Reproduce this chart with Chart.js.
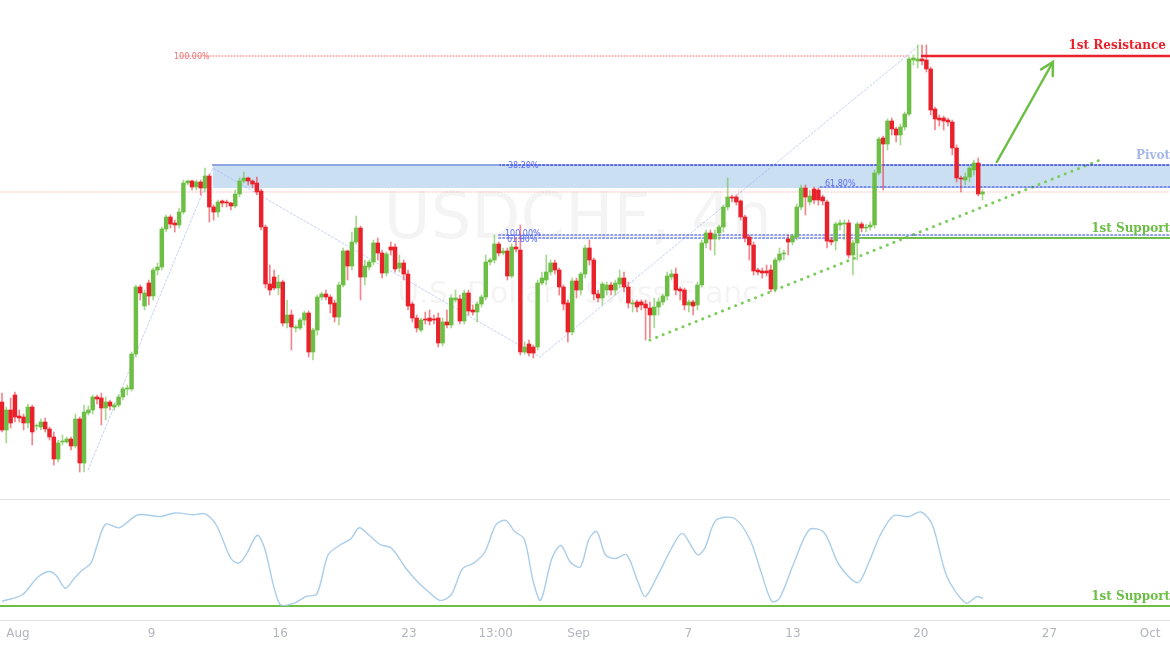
<!DOCTYPE html>
<html lang="en">
<head>
<meta charset="UTF-8">
<title>USDCHF 4h</title>
<script src="https://cdn.jsdelivr.net/npm/chart.js"></script>
<style>
  body { margin: 0; background: #fff; width: 1170px; height: 650px; overflow: hidden; font-family: "DejaVu Sans", sans-serif; }
  #top { position: absolute; left: 0; top: 0; }
  #bottom { position: absolute; left: 0; top: 500px; }
</style>
</head>
<body>
<canvas id="top" width="1170" height="500"></canvas>
<canvas id="bottom" width="1170" height="150"></canvas>
<script>
// candles, one per 4h bar: [open, high, low, close] (price level, chart units)
const candles = [
  [198,207,168,170],[170,193,157,190],[190,202,172,177],[205,208,178,183],[184,190,178,182],
  [183,186,170,177],[177,196,172,193],[193,195,155,168],[174,176,170,174.5],[173,181,170,178],
  [178,182,168,171],[171,173,160,163],[163,168,135,141],[141,160,138,157],[158,165,155,159],
  [158,163,157,161],[161,163,150,154],[154,186,152,181],[181,183,128,137],[137,195,128,188],
  [187,194,185,190],[190,205,186,203],[203,205,196,201],[202,207,175,192],[192,203,180,198],
  [198,200,190,194],[193,197,190,195],[195,205,193,203],[203,213,200,211],[211,215,205,212],
  [211,248,209,246],[246,315,243,313],[313,315,300,307],[294,310,290,307],[317,320,295,304],
  [304,332,300,330],[330,337,325,333],[333,373,330,371],[371,385,368,383],[383,385,372,376],
  [377,380,368,375],[375,392,372,388],[388,420,386,417],[417,420,415,419],[419,420,410,413],
  [413,420,410,418],[418,420,405,412],[412,432,408,424],[424,426,378,393],[393,395,380,388],
  [388,400,383,398],[399,400,393,397],[398,400,393,397],[397,398,390,394],[394,410,392,406],
  [406,422,403,419],[419,428,417,422],[422,423,415,419],[419,420,412,416],[417,423,405,408],
  [409,411,370,373],[373,375,312,316],[316,335,305,310],[323,330,310,312],[312,325,305,318],
  [318,320,274,277],[277,300,272,285],[285,290,250,273],[272,275,268,273],[272,282,270,280],
  [280,289,275,287],[287,289,243,248],[248,272,240,270],[270,305,265,303],[303,308,300,306],
  [306,310,300,303],[303,305,287,296],[297,300,278,283],[283,318,275,315],[315,352,313,349],
  [349,350,320,334],[334,368,330,358],[358,384,356,372],[372,374,300,323],[323,340,315,334],
  [333,340,330,338],[338,360,335,357],[357,362,340,347],[347,350,322,327],[327,348,324,346],
  [353,358,345,350],[353,356,328,331],[332,345,328,337],[337,340,320,326],[326,330,290,294],
  [296,298,278,282],[282,285,268,272],[270,282,268,280],[281,288,276,280],[282,290,275,279],
  [281,285,276,280],[282,287,253,257],[257,282,254,278],[278,290,272,275],[275,305,272,302],
  [300,310,298,302],[301,305,276,279],[279,310,276,307],[307,310,285,289],[290,295,285,288],
  [288,298,278,296],[296,305,293,303],[303,345,300,338],[338,342,335,340],[340,365,337,356],
  [356,358,344,347],[347,352,345,349],[349,352,320,324],[324,356,322,353],[353,362,348,351],
  [350,375,245,248],[248,258,246,253],[256,260,244,247],[253,255,242,247],[253,320,250,317],
  [317,328,315,322],[320,345,315,328],[328,340,325,337],[337,340,326,330],[330,332,305,313],
  [313,315,290,296],[297,300,258,268],[268,322,265,319],[319,322,302,310],[310,328,305,326],
  [326,355,322,352],[352,360,335,340],[340,342,300,306],[306,310,298,302],[302,318,295,316],
  [310,318,305,315],[315,318,305,310],[310,320,305,317],[316,330,312,322],[322,328,308,313],
  [313,318,292,297],[296,300,288,297],[298,300,288,293],[298,300,290,295],[296,300,260,292],
  [292,298,262,285],[285,302,272,293],[293,302,285,298],[298,306,295,304],[304,328,300,324],
  [323,330,320,326],[326,332,305,310],[311,313,300,309],[310,312,290,295],[295,300,288,298],
  [298,300,285,294],[295,318,290,315],[315,360,313,357],[357,370,352,367],[367,370,350,361],
  [361,370,345,366],[367,375,360,373],[373,395,368,393],[393,422,390,403],[403,405,398,402],
  [403,405,395,398],[399,400,380,383],[383,385,358,362],[363,365,340,355],[355,358,325,329],
  [330,332,325,328],[329,332,322,327],[329,335,324,327],[330,335,308,311],[311,342,308,340],
  [340,352,338,346],[346,350,340,347],[361,365,345,358],[358,366,355,364],[363,396,360,393],
  [393,415,390,412],[412,415,385,403],[398,410,395,404],[411,413,396,400],[410,412,395,400],
  [403,405,395,399],[398,400,352,359],[360,362,355,358],[359,378,350,376],[375,380,370,377],
  [376,380,360,377],[377,380,342,345],[345,360,325,357],[357,378,340,376],[376,378,368,372],
  [372,376,368,373],[373,378,370,375],[375,430,372,427],[427,463,425,461],[462,464,410,456],
  [456,481,450,479],[479,482,465,471],[471,473,458,465],[465,476,455,473],[473,488,470,486],
  [486,543,484,541],[540,545,535,542],[539,555,532,541],[541,555,535,539],[540,555,528,531],
  [531,533,485,490],[491,493,470,481],[482,485,474,480],[482,484,470,479],[480,482,474,478],
  [478,480,445,452],[452,455,418,422],[422,424,408,421],[420,427,415,423],[423,434,418,432],
  [430,440,425,437],[437,442,404,406],[406,410,400,408]
];

// stochastic-like oscillator, read at bar positions
const oscIdx = [0,4.7,8.1,10.7,12.5,14.7,16.8,18.5,20.6,22,24,27.1,31.5,36.6,40.1,44.4,47,49.6,53,54.8,56.5,59.1,60.8,64.3,67.7,70.3,72.9,75.5,78.1,80.7,82.7,85,87.6,90.2,93.6,96.2,98.8,101.4,104,106.6,109.2,111.8,114.3,116.6,118.7,120.9,123,124.7,127.3,129.4,131.6,133.9,135.9,137.7,139.7,142,144.6,147.2,148.9,151.5,155,157.5,161,162.7,165.3,169.6,173.1,175.7,178.2,180,183.4,186.9,190.3,193.8,198.1,200.7,203.3,206.4,209.9,212.8,215.4,218.8,223.2,225.7,227.1];
const oscVal = [4,11,29,36,32,18,29,37,45,64,87,83,97,95,99,97,98,86,50,45,54,75,61,1,2,9,12,54,64,71,83,75,65,61,39,25,14,5,11,39,45,57,86,91,79,71,25,5,50,64,46,41,71,79,54,50,54,25,9,29,61,77,54,61,91,93,71,36,4,7,46,81,78,43,24,46,75,96,95,100,86,30,2,9,7];

// time axis
const tickLabels = ['Aug','9','16','23','13:00','Sep','7','13','20','27','Oct'];
const tickIdx = [3.7,34.6,64.4,94.2,114.3,133.5,158.9,183.1,212.7,242.5,265.8];

// levels
const resistance = 544;
const zoneTop = 435, zoneBottom = 412;
const fib618 = 413;
const supportA = 365, supportB = 362;
const redGuide = 408;
const trendIdx = [150, 254.2], trendVal = [260, 440];
const arrowIdx = [230.3, 243.3], arrowVal = [438, 538];
const zigIdx = [19.9, 48.8, 124.5, 212.5], zigVal = [130, 432, 243, 555];
const oscSupport = -1;

const X_MIN = -0.46, X_MAX = 270.4;
const GREEN = '#6cbe45', RED = '#e8212b';

const wicks = candles.map((c, i) => ({ x: i, y: [c[2], c[1]] }));
const bodies = candles.map((c, i) => ({ x: i, y: [Math.min(c[0], c[3]), Math.max(c[0], c[3]) + (c[0] === c[3] ? 0.8 : 0)] }));
const up = candles.map(c => c[3] >= c[0]);

function seg(x1, y1, x2, y2) { return [{ x: x1, y: y1 }, { x: x2, y: y2 }]; }
function lineDs(data, color, width, dash) {
  return { type: 'line', data, borderColor: color, borderWidth: width, borderDash: dash || [], pointRadius: 0, fill: false, order: 5, borderCapStyle: 'round' };
}

const overlay = {
  id: 'overlay',
  beforeDatasetsDraw(chart) {
    const { ctx, scales: { x, y } } = chart;
    ctx.save();
    // watermark
    ctx.fillStyle = 'rgba(0,0,0,0.045)';
    ctx.textAlign = 'center';
    ctx.font = '64px "DejaVu Sans"';
    ctx.fillText('USDCHF, 4h', 578, 238);
    ctx.font = '30px "DejaVu Sans"';
    ctx.fillText('U.S. Dollar / Swiss Franc', 578, 303);
    // pivot zone
    ctx.fillStyle = 'rgba(160,196,234,0.55)';
    const zx = x.getPixelForValue(48.8);
    ctx.fillRect(zx, y.getPixelForValue(zoneTop), 1170 - zx, y.getPixelForValue(zoneBottom) - y.getPixelForValue(zoneTop));
    ctx.restore();
  },
  afterDatasetsDraw(chart) {
    const { ctx, scales: { x, y } } = chart;
    ctx.save();
    // arrow head
    const x1 = x.getPixelForValue(arrowIdx[0]), y1 = y.getPixelForValue(arrowVal[0]);
    const x2 = x.getPixelForValue(arrowIdx[1]), y2 = y.getPixelForValue(arrowVal[1]);
    const a = Math.atan2(y2 - y1, x2 - x1);
    ctx.strokeStyle = GREEN; ctx.lineWidth = 2.5; ctx.lineCap = 'round';
    ctx.beginPath();
    ctx.moveTo(x2 - 14 * Math.cos(a - 0.5), y2 - 14 * Math.sin(a - 0.5));
    ctx.lineTo(x2, y2);
    ctx.lineTo(x2 - 14 * Math.cos(a + 0.5), y2 - 14 * Math.sin(a + 0.5));
    ctx.stroke();
    // labels
    ctx.font = '8px "DejaVu Sans"';
    ctx.textAlign = 'left';
    ctx.fillStyle = '#f07070';
    ctx.fillText('100.00%', 174, y.getPixelForValue(resistance) + 3);
    ctx.fillStyle = '#5b6cf0';
    ctx.fillText('38.20%', 508, y.getPixelForValue(zoneTop) + 3);
    ctx.fillText('61.80%', 825, y.getPixelForValue(fib618) - 1);
    ctx.fillText('100.00%', 505, y.getPixelForValue(supportA) + 1);
    ctx.fillText('61.80%', 507, y.getPixelForValue(supportB) + 4);
    ctx.font = 'bold 12px "DejaVu Serif"';
    ctx.textAlign = 'right';
    ctx.fillStyle = RED;
    ctx.fillText('1st Resistance', 1166, y.getPixelForValue(resistance) - 7);
    ctx.fillStyle = '#a7b7e6';
    ctx.fillText('Pivot', 1170, y.getPixelForValue(zoneTop) - 6);
    ctx.fillStyle = GREEN;
    ctx.fillText('1st Support', 1170, y.getPixelForValue(supportB) - 6);
    // separator
    ctx.strokeStyle = '#e0e3eb'; ctx.lineWidth = 1;
    ctx.beginPath(); ctx.moveTo(0, 499.5); ctx.lineTo(1170, 499.5); ctx.stroke();
    ctx.restore();
  }
};

const xScale = { type: 'linear', min: X_MIN, max: X_MAX, display: false, offset: false };

new Chart(document.getElementById('top'), {
  type: 'bar',
  data: {
    datasets: [
      lineDs(seg(199, supportB, X_MAX, supportB), GREEN, 2),
      lineDs(seg(X_MIN, redGuide, X_MAX, redGuide), 'rgba(240,120,120,0.5)', 1, [1, 2]),
      lineDs(seg(41.2, resistance, 210, resistance), '#f07070', 1, [1, 2]),
      lineDs(seg(213, resistance, X_MAX, resistance), RED, 2.5),
      lineDs(seg(48.8, zoneTop, 115, zoneTop), '#8ea6e3', 2),
      lineDs(seg(115, zoneTop, X_MAX, zoneTop), '#2a3fe0', 1.5, [2, 2]),
      lineDs(seg(189.4, fib618, X_MAX, fib618), '#2a3fe0', 1.2, [2, 2]),
      lineDs(seg(115, supportA, X_MAX, supportA), '#2a3fe0', 1.2, [2, 2]),
      lineDs(seg(115, supportB, X_MAX, supportB), '#2a3fe0', 1.2, [2, 2]),
      lineDs(zigIdx.map((v, i) => ({ x: v, y: zigVal[i] })), 'rgba(150,170,235,0.55)', 1, [2, 2]),
      lineDs(seg(trendIdx[0], trendVal[0], trendIdx[1], trendVal[1]), '#7ccc5c', 3, [0.1, 7]),
      lineDs(seg(arrowIdx[0], arrowVal[0], arrowIdx[1], arrowVal[1]), GREEN, 2.5),
      { type: 'bar', data: wicks, barThickness: 1, grouped: false, order: 2,
        backgroundColor: up.map(u => u ? 'rgba(108,190,69,0.6)' : 'rgba(232,33,43,0.55)') },
      { type: 'bar', data: bodies, barThickness: 3.8, grouped: false, order: 1,
        backgroundColor: up.map(u => u ? GREEN : RED) }
    ]
  },
  options: {
    animation: false, responsive: false, maintainAspectRatio: false,
    layout: { padding: 0 },
    plugins: { legend: { display: false }, tooltip: { enabled: false } },
    scales: { x: xScale, y: { display: false, min: 100, max: 600 } }
  },
  plugins: [overlay]
});

const axisLabels = {
  id: 'axisLabels',
  afterDraw(chart) {
    const { ctx, scales: { x, y } } = chart;
    ctx.save();
    ctx.strokeStyle = '#e0e3eb'; ctx.lineWidth = 1;
    ctx.beginPath(); ctx.moveTo(0, 120.5); ctx.lineTo(1170, 120.5); ctx.stroke();
    ctx.fillStyle = '#b2b5be';
    ctx.font = '12px "DejaVu Sans"';
    ctx.textAlign = 'center';
    tickIdx.forEach((t, i) => ctx.fillText(tickLabels[i], x.getPixelForValue(t), 137));
    ctx.font = 'bold 12px "DejaVu Serif"';
    ctx.textAlign = 'right';
    ctx.fillStyle = GREEN;
    ctx.fillText('1st Support', 1170, y.getPixelForValue(oscSupport) - 6);
    ctx.restore();
  }
};

new Chart(document.getElementById('bottom'), {
  type: 'line',
  data: {
    datasets: [
      lineDs(seg(X_MIN, oscSupport, X_MAX, oscSupport), GREEN, 2),
      { data: oscIdx.map((v, i) => ({ x: v, y: oscVal[i] })), borderColor: '#a9cdea', borderWidth: 1.4,
        pointRadius: 0, tension: 0.3, fill: false }
    ]
  },
  options: {
    animation: false, responsive: false, maintainAspectRatio: false,
    layout: { padding: 0 },
    plugins: { legend: { display: false }, tooltip: { enabled: false } },
    scales: { x: xScale, y: { display: false, min: -48.4, max: 112.9 } }
  },
  plugins: [axisLabels]
});
</script>
</body>
</html>
